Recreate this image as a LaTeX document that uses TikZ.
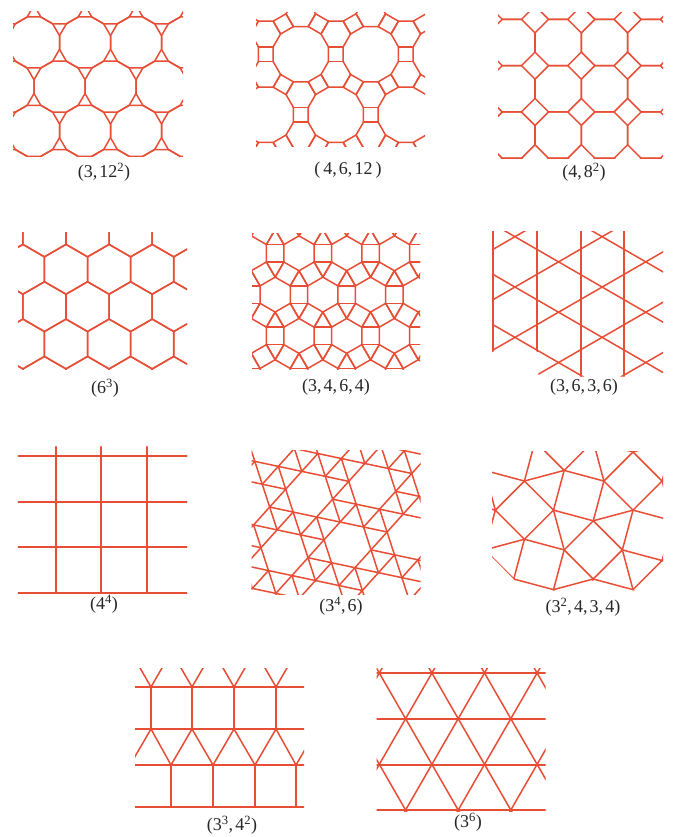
\documentclass[tikz,border=0pt]{standalone}
\usepackage{fontspec}
\setmainfont{Liberation Serif}
\definecolor{tlc}{RGB}{232,78,54}
\newcommand\tcomma{,\hspace{0.12em}}
\begin{document}
\begin{tikzpicture}[x=1pt,y=-1pt,
  tl/.style={draw=tlc,line width=1.5pt,line join=round,line cap=round},
  lab/.style={font=\fontsize{18}{18}\selectfont,inner sep=0pt,text=black!85}]
\useasboundingbox[fill=white] (0,0) rectangle (674,837);

% ---------- (3,12^2)
\begin{scope}
\clip (13,12) rectangle (183,157);
\foreach \j in {-1,...,3}{
 \foreach \i in {-2,...,3}{
  \pgfmathsetmacro\cx{85+51*\i+25.5*mod(\j+2,2)}
  \pgfmathsetmacro\cy{42.5+44.17*\j}
  \draw[tl,shift={(\cx,\cy)}] (15:26.4) \foreach \k in {1,...,11}{ -- ({15+30*\k}:26.4)} -- cycle;
 }}
\end{scope}

% ---------- (4,6,12)
\begin{scope}
\clip (256,13) rectangle (425,147);
\foreach \j in {-1,...,2}{
 \foreach \i in {-2,...,2}{
  \pgfmathsetmacro\cx{300.8+70*\i+35*mod(\j+2,2)}
  \pgfmathsetmacro\cy{54.2+60.62*\j}
  \begin{scope}[shift={(\cx,\cy)}]
   \draw[tl] (15:28.6) \foreach \k in {1,...,11}{ -- ({15+30*\k}:28.6)} -- cycle;
   \foreach \t in {0,60,...,300}{
    \draw[tl] ({\t+15}:28.6) -- ++(\t:14.8);
    \draw[tl] ({\t-15}:28.6) -- ++(\t:14.8);
   }
  \end{scope}
 }}
\end{scope}

% ---------- (4,8^2)
\begin{scope}
\clip (498,13) rectangle (663,159);
\foreach \j in {-1,...,3}{
 \foreach \i in {-1,...,3}{
  \draw[tl,shift={({511.85+46.3*\i},{42.5+46.3*\j})}] (22.5:25.08) \foreach \k in {1,...,7}{ -- ({22.5+45*\k}:25.08)} -- cycle;
 }}
\end{scope}

% ---------- (6^3)
\begin{scope}
\clip (18,232.7) rectangle (187,369.5);
\foreach \j in {-1,...,3}{
 \foreach \i in {-2,...,3}{
  \pgfmathsetmacro\cx{66+43.1*\i+21.55*mod(\j+2,2)}
  \pgfmathsetmacro\cy{269.3+37.35*\j}
  \draw[tl,shift={(\cx,\cy)}] (30:24.9) \foreach \k in {1,...,5}{ -- ({30+60*\k}:24.9)} -- cycle;
 }}
\end{scope}

% ---------- (3,4,6,4)
\begin{scope}
\clip (252,233) rectangle (420,369);
\foreach \j in {-1,...,3}{
 \foreach \i in {-2,...,3}{
  \pgfmathsetmacro\cx{299+47.7*\i+23.85*mod(\j+2,2)}
  \pgfmathsetmacro\cy{253.3+41.3*\j}
  \begin{scope}[shift={(\cx,\cy)}]
   \draw[tl] (30:17.45) \foreach \k in {1,...,5}{ -- ({30+60*\k}:17.45)} -- cycle;
   \foreach \t in {0,60,...,300}{
    \draw[tl] ({\t+30}:17.45) -- ++(\t:17.45);
    \draw[tl] ({\t-30}:17.45) -- ++(\t:17.45);
   }
  \end{scope}
 }}
\end{scope}

% ---------- (3,6,3,6)
\begin{scope}
\clip (492,231) -- (663,231) -- (663,376.5) -- (538.3,376.5) -- (538.3,352.3) -- (515,339.2) -- (492,352.3) -- cycle;
\foreach \x in {493,537,581,624} \draw[tl] (\x,225) -- (\x,380);
\foreach \k in {-2,...,3} \draw[tl] (488,{488*0.57735-60.6+50.34*\k}) -- (667,{667*0.57735-60.6+50.34*\k});
\foreach \k in {0,...,4} \draw[tl] (488,{-488*0.57735+534+50.34*\k}) -- (667,{-667*0.57735+534+50.34*\k});
\end{scope}

% ---------- (4^4)
\foreach \y in {456,502,547,593} \draw[tl] (18.3,\y) -- (186.7,\y);
\foreach \x in {56,101,147} \draw[tl] (\x,446.7) -- (\x,593);

% ---------- (3^4,6)
\begin{scope}
\clip (251.5,450) rectangle (420.5,594);
\foreach \m in {-6,...,7}{
 \foreach \n in {-6,...,6}{
  \pgfmathtruncatemacro\ra{mod(2*\m-\n+70,7)}
  \ifnum\ra>0
   \pgfmathsetmacro\px{309.2+23.48*\m+7.42*\n}
   \pgfmathsetmacro\py{494.2+4.99*\m+22.83*\n}
   \pgfmathtruncatemacro\rb{mod(2*\m-\n+72,7)}
   \pgfmathtruncatemacro\rc{mod(2*\m-\n+69,7)}
   \pgfmathtruncatemacro\rd{mod(2*\m-\n+67,7)}
   \ifnum\rb>0 \draw[tl] (\px,\py) -- ++(23.48,4.99); \fi
   \ifnum\rc>0 \draw[tl] (\px,\py) -- ++(7.42,22.83); \fi
   \ifnum\rd>0 \draw[tl] (\px,\py) -- ++(-16.06,17.84); \fi
  \fi
 }}
\end{scope}

% ---------- (3^2,4,3,4)
\begin{scope}
\clip (492,451) -- (663,451) -- (663,561) -- (634,590.5) -- (593.3,580.5) -- (554,590.5) -- (515,580.5) -- (492,557) -- cycle;
\foreach \m in {-3,...,3}{
 \foreach \n in {-3,...,3}{
  \pgfmathsetmacro\ax{578.7+68.85*\m-39.75*\n}
  \pgfmathsetmacro\ay{495.6+39.75*\m+68.85*\n}
  \begin{scope}[shift={(\ax,\ay)}]
   \draw[tl] (60:29.1) -- (150:29.1) -- (240:29.1) -- (330:29.1) -- cycle;
   \draw[tl,shift={(14.55,54.30)}] (0:29.1) -- (90:29.1) -- (180:29.1) -- (270:29.1) -- cycle;
   \draw[tl] (14.55,25.20) -- (54.3,14.55);
   \draw[tl] (-25.20,14.55) -- (-14.55,54.30);
  \end{scope}
 }}
\end{scope}

% ---------- (3^3,4^2)
\begin{scope}
\clip (135,668.3) rectangle (304,807.5);
\foreach \y in {687,729,765,807} \draw[tl] (135,\y) -- (304,\y);
\foreach \x in {151,192,234,276} \draw[tl] (\x,687) -- (\x,729);
\foreach \x in {171,213,255,296} \draw[tl] (\x,765) -- (\x,807);
\draw[tl] (109,729) -- (130,765) -- (151,729) -- (171,765) -- (192,729) -- (213,765) -- (234,729) -- (255,765) -- (276,729) -- (296,765) -- (317,729);
\foreach \x in {151,192,234,276} \draw[tl] (\x-20.85,650.9) -- (\x,687) -- (\x+20.85,650.9);
\end{scope}

% ---------- (3^6)
\begin{scope}
\clip (376.7,668) rectangle (545.7,811.3);
\foreach \y in {673,719,765,810} \draw[tl] (376.7,\y) -- (545.7,\y);
\foreach \k in {-2,...,5}{
  \draw[tl] ({379.3+52.6*\k-26.3},627.33) -- ++(131.5,228.35);
  \draw[tl] ({379.3+52.6*\k+26.3},627.33) -- ++(-131.5,228.35);
}
\end{scope}

% ---------- labels
\node[lab] (t1) at (104,172) {(3\tcomma 12\textsuperscript{2})};
\node[lab] (t2) at (348,170) {(\,4\tcomma 6\tcomma 12\,)};
\node[lab] (t3) at (584,172) {(4\tcomma 8\textsuperscript{2})};
\node[lab] (t4) at (105,388) {(6\textsuperscript{3})};
\node[lab] (t5) at (336,387) {(3\tcomma 4\tcomma 6\tcomma 4)};
\node[lab] (t6) at (584,387) {(3\tcomma 6\tcomma 3\tcomma 6)};
\node[lab] (t7) at (104,604) {(4\textsuperscript{4})};
\node[lab] (t8) at (341,606) {(3\textsuperscript{4}\tcomma 6)};
\node[lab] (t9) at (583,607) {(3\textsuperscript{2}\tcomma 4\tcomma 3\tcomma 4)};
\node[lab] (t10) at (232,825) {(3\textsuperscript{3}\tcomma 4\textsuperscript{2})};
\node[lab] (t11) at (468,822) {(3\textsuperscript{6})};
\end{tikzpicture}
\end{document}
